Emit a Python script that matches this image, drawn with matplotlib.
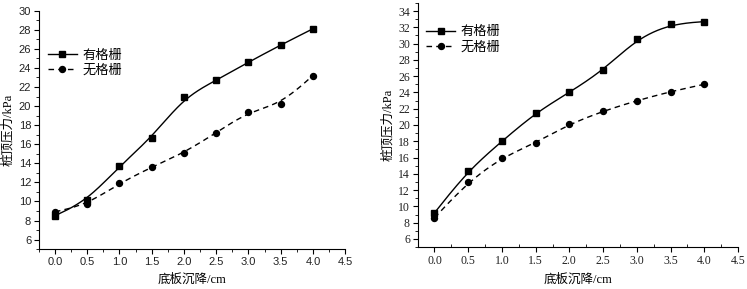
import matplotlib
matplotlib.use("Agg")
import matplotlib.pyplot as plt
from matplotlib.ticker import MultipleLocator
import numpy as np

# 数据
x = [0.0, 0.5, 1.0, 1.5, 2.0, 2.5, 3.0, 3.5, 4.0]
left_grid = [8.5, 10.1, 13.7, 16.7, 20.9, 22.7, 24.6, 26.4, 28.1]
left_nogrid = [8.9, 9.7, 11.9, 13.6, 15.1, 17.2, 19.4, 20.2, 23.2]
right_grid = [9.2, 14.4, 18.0, 21.5, 24.0, 26.7, 30.6, 32.4, 32.7]
right_nogrid = [8.6, 13.0, 16.0, 17.8, 20.1, 21.7, 23.0, 24.1, 25.0]
labels = ["有格栅", "无格栅"]
xlabel = "底板沉降/cm"
ylabel = "桩顶压力/kPa"


def bspline(xs, ys, n=40):
    # 三次B样条（端点重复三次），数据点作控制点，只用于平滑连线
    px = np.r_[[xs[0]] * 2, xs, [xs[-1]] * 2]
    py = np.r_[[ys[0]] * 2, ys, [ys[-1]] * 2]
    t = np.linspace(0, 1, n)[:, None]
    B = np.hstack([(1 - t)**3, 3 * t**3 - 6 * t**2 + 4, -3 * t**3 + 3 * t**2 + 3 * t + 1, t**3]) / 6
    ox, oy = [], []
    for i in range(len(px) - 3):
        ox.append(B @ px[i:i + 4])
        oy.append(B @ py[i:i + 4])
    return np.concatenate(ox), np.concatenate(oy)


fig = plt.figure(figsize=(7.47, 2.89), dpi=100)
ax1 = fig.add_axes([0.052, 0.138, 0.410, 0.825])
ax2 = fig.add_axes([0.559, 0.145, 0.429, 0.845])

setups = [
    (ax1, left_grid, left_nogrid, (5, 30), ["Liberation Sans", "Noto Sans CJK SC"], (0.012, 0.862), 8, "out"),
    (ax2, right_grid, right_nogrid, (5, 35), ["Liberation Serif", "Noto Sans CJK SC"], (0.01, 0.93), 8.5, "in"),
]

for ax, yg, yn, ylim, tickfont, legpos, tsize, xminor in setups:
    xs, ys = bspline(x, yg)
    ax.plot(xs, ys, color="black", lw=1.0, ls="-")
    xs, ys = bspline(x, yn)
    ax.plot(xs, ys, color="black", lw=1.0, ls=(0, (4, 3)))
    ax.plot(x, yg, ls="none", marker="s", ms=4, color="black")
    ax.plot(x, yn, ls="none", marker="o", ms=4.3, color="black")
    # 凡例用のダミー
    h1, = ax.plot([], [], color="black", lw=1.0, marker="s", ms=4, label=labels[0])
    h2, = ax.plot([], [], color="black", lw=1.0, ls=(0, (4, 3)), marker="o", ms=4.3, label=labels[1])

    ax.set_xlim(-0.25, 4.5)
    ax.set_ylim(*ylim)
    ax.xaxis.set_minor_locator(MultipleLocator(0.25))
    ax.yaxis.set_minor_locator(MultipleLocator(1))
    ax.set_yticks(np.arange(6, ylim[1] + 0.1, 2))
    ax.set_xticks(np.arange(0, 4.51, 0.5))
    ax.set_xticklabels(["%.1f" % v for v in np.arange(0, 4.51, 0.5)])
    ax.spines["top"].set_visible(False)
    ax.spines["right"].set_visible(False)
    ax.tick_params(which="major", direction="out", length=3.5, width=0.8, labelsize=tsize, pad=2)
    ax.tick_params(which="minor", direction="out", length=2, width=0.6)
    ax.tick_params(axis="x", which="minor", direction=xminor)
    for lab in ax.get_xticklabels() + ax.get_yticklabels():
        lab.set_family(tickfont)
        lab.set_color("#222222")
    ax.set_xlabel(xlabel, fontsize=9, family=["Liberation Serif", "Noto Sans CJK SC"], labelpad=5)
    ax.set_ylabel(ylabel, fontsize=9, family=["Liberation Serif", "Noto Sans CJK SC"], labelpad=3)
    leg = ax.legend(handles=[h1, h2], loc="upper left", bbox_to_anchor=legpos, frameon=False,
                    prop={"family": "Noto Sans CJK SC", "size": 9.5}, handlelength=2.2,
                    handletextpad=0.4, labelspacing=0.15, borderaxespad=0)

fig.savefig("out.png", dpi=100)
